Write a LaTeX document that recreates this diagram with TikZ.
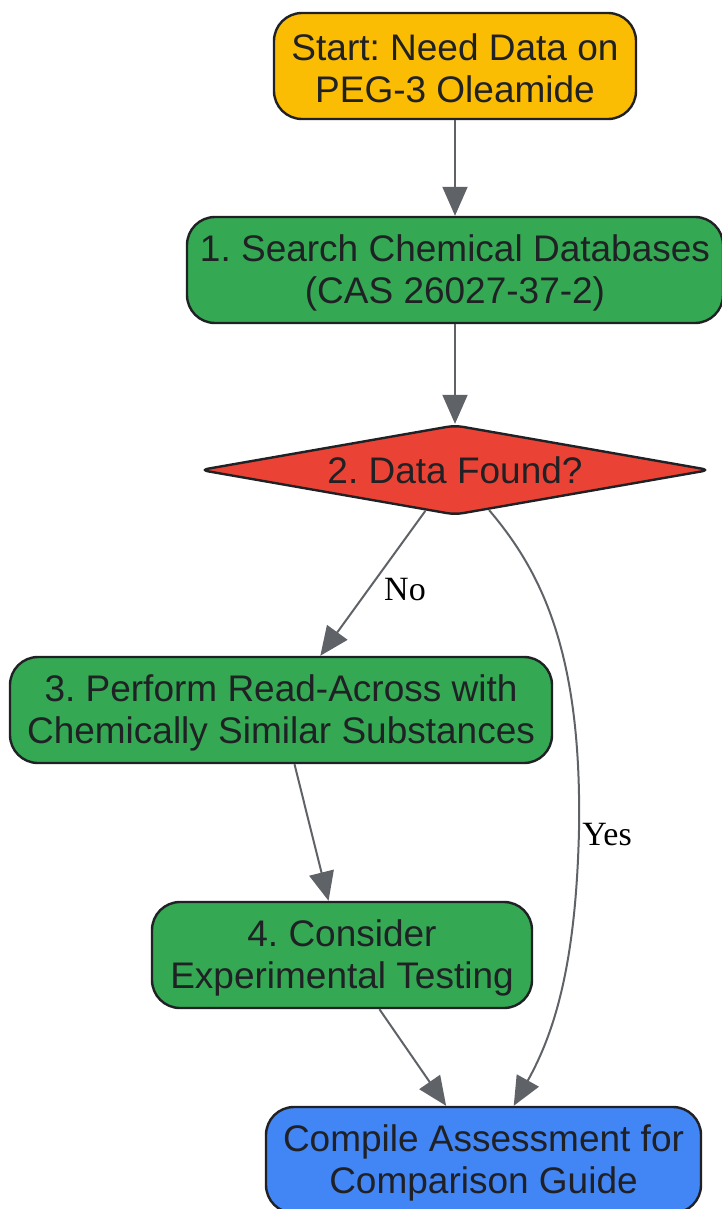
\documentclass[tikz,border=0pt]{standalone}
\usepackage{fontspec}
\setmainfont{Liberation Sans}
\newfontfamily\edgefont{Liberation Serif}
\usetikzlibrary{shapes.geometric,arrows.meta}
\definecolor{cstart}{HTML}{FBBC04}
\definecolor{cstep}{HTML}{34A853}
\definecolor{cdec}{HTML}{EA4335}
\definecolor{cend}{HTML}{4285F4}
\definecolor{cline}{HTML}{5F6368}
\definecolor{ctext}{HTML}{202124}
\frenchspacing
\begin{document}
\begin{tikzpicture}[x=0.5pt,y=-0.5pt,
  box/.style={draw=ctext,line width=1.2pt,rounded corners=14pt,align=center,
    text=ctext,minimum height=53pt,inner sep=0pt,font=\fontsize{18.5}{21}\selectfont,
    execute at begin node={\rule{0pt}{37pt}}},
  decbox/.style={draw=ctext,line width=1.2pt,diamond,rounded corners=4pt,fill=cdec,
    text=ctext,minimum width=255pt,minimum height=45pt,inner sep=0pt,aspect=5.6,
    font=\fontsize{18.5}{21}\selectfont},
  edge/.style={draw=cline,line width=1pt,-{Triangle[length=14.5pt,width=12.5pt]}},
  elabel/.style={font=\edgefont\fontsize{17}{20}\selectfont,text=black}]
\useasboundingbox (0,0) rectangle (722,1209);
\node[box,fill=cstart,minimum width=181pt] (start) at (455,66) {Start: Need Data on\\PEG-3 Oleamide};
\node[box,fill=cstep,minimum width=268pt] (search) at (455,270) {1. Search Chemical Databases\\(CAS 26027-37-2)};
\node[decbox] (found) at (455,470) {2. Data Found?};
\node[box,fill=cstep,minimum width=271pt] (readacross) at (281,710) {3. Perform Read-Across with\\Chemically Similar Substances};
\node[box,fill=cstep,minimum width=190pt] (testing) at (342,955) {4. Consider\\Experimental Testing};
\node[box,fill=cend,minimum width=217.5pt] (compile) at (483.5,1160) {Compile Assessment for\\Comparison Guide};
\coordinate (yesbend) at (579,830);
% connectors
\draw[edge] (start) -- (search);
\draw[edge] (search) -- (found);
\draw[edge] (found) -- (readacross);
\draw[edge] (readacross) -- (testing);
\draw[edge] (testing) -- (compile);
\draw[edge] (found) .. controls (540,570) and (582,650) .. (yesbend)
  .. controls (576,960) and (556,1030) .. (compile);
\node[elabel] (nolabel) at (405,590) {No};
\node[elabel] (yeslabel) at (607,835) {Yes};
\end{tikzpicture}
\end{document}
